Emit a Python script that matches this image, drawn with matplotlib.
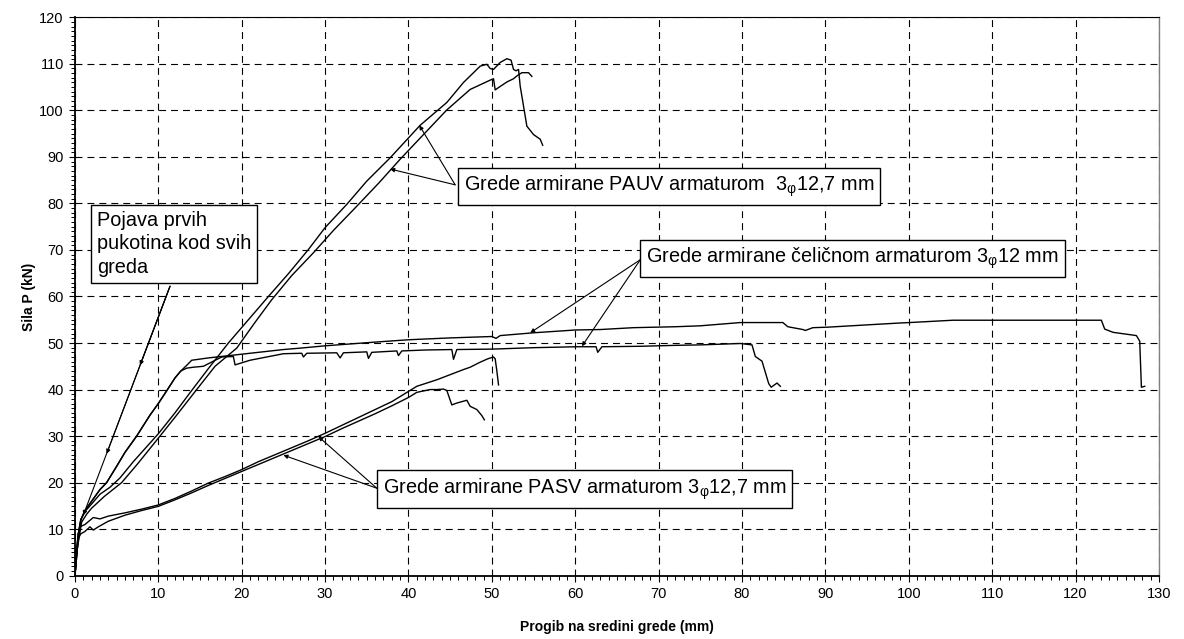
import matplotlib
matplotlib.use('Agg')
import matplotlib.pyplot as plt
from matplotlib.ticker import MultipleLocator

plt.rcParams['font.family'] = ['Liberation Sans', 'DejaVu Sans']
plt.rcParams['lines.scale_dashes'] = False

# celicna armatura (dvije grede)
s1_x = [0, 0.2, 0.4, 0.7, 1.2, 2, 3, 3.8, 5, 6, 7.4, 9, 10, 11.1, 12, 12.7, 13.4, 14, 16, 18, 20, 22, 25, 27,
        30, 33, 36, 40, 45, 50, 50.5, 51, 55, 60, 63, 67, 72, 75, 79.8, 84.9, 85.5, 87.3, 87.6, 88.5, 90.2, 95,
        98.9, 100.1, 105.3, 110, 115, 123.1, 123.5, 124.5, 127.3, 127.7, 127.9, 128.3]
s1_y = [0, 5, 9, 12, 14, 16, 18.5, 20, 23.5, 26.5, 30, 34.5, 37, 40, 42.5, 44, 45.2, 46.3, 46.8, 47.2, 47.6, 48.0,
        48.6, 48.9, 49.4, 49.8, 50.2, 50.7, 51.1, 51.4, 51.0, 51.6, 52.2, 52.8, 52.9, 53.3, 53.5, 53.7, 54.4, 54.4,
        53.5, 52.9, 52.7, 53.3, 53.4, 53.9, 54.3, 54.4, 54.9, 54.9, 54.9, 54.9, 53.0, 52.3, 51.6, 50.4, 40.5, 40.7]
s2_x = [0, 0.2, 0.4, 0.7, 1.2, 2, 3, 3.8, 5, 6, 7.4, 9, 10, 11.1, 12, 12.7, 13.4, 14.2, 15.4, 16.5, 17.6, 19.0,
        19.2, 21, 23, 25, 27.2, 27.4, 27.8, 31.4, 31.8, 32.2, 35, 35.2, 35.6, 38.6, 38.8, 39.2, 42, 45.2, 45.4,
        45.8, 50.2, 55, 60.2, 62.5, 62.7, 63.2, 67.8, 72, 75, 79.8, 81.2, 81.6, 82.4, 83.2, 83.5, 84.2, 84.6]
s2_y = [0, 5, 9, 12, 14, 16, 18.5, 20, 23.5, 26.5, 30, 34.5, 37, 40, 42.5, 44, 44.6, 44.8, 45.0, 46.0, 47.0, 47.1,
        45.3, 46.3, 47.0, 47.7, 47.8, 47.0, 47.8, 47.9, 46.8, 47.9, 48.1, 46.7, 48.0, 48.3, 47.3, 48.3, 48.5, 48.6,
        46.5, 48.6, 48.7, 49.0, 49.2, 49.2, 48.0, 49.2, 49.3, 49.5, 49.6, 49.9, 49.6, 47.1, 46.1, 41.3, 40.5, 41.4,
        40.7]

# PAUV armatura
a1_x = [0, 0.3, 0.7, 1.2, 1.8, 3, 4.2, 5.4, 7, 8.5, 10, 12, 14, 16, 18.4, 20.8, 23.2, 25.6, 28, 30, 32.6, 35,
        37.8, 41.4, 44.6, 46.6, 48.6, 49.4, 49.8, 50.2, 51.0, 51.8, 52.3, 52.6, 52.9, 53.2, 53.4, 53.8, 54.2,
        55.0, 55.8, 56.1]
a1_y = [0, 6, 12, 13.8, 15, 17.5, 19, 21, 24.5, 27.5, 30.5, 35, 39.8, 44.5, 50, 55, 60, 64.9, 70.1, 74.8, 79.8,
        84.8, 89.8, 96.8, 101.7, 106, 109.5, 109.9, 109, 108.8, 110.3, 111.1, 110.8, 108.8, 108.5, 108.8, 105.2,
        100.9, 96.6, 94.8, 93.8, 92.5]
a2_x = [0, 0.3, 0.8, 1.4, 2, 3.5, 5.6, 7.5, 10.2, 12.2, 14.6, 16.8, 19.4, 21.5, 23.6, 26, 28.6, 31, 33.8, 36.5,
        39.0, 41.8, 44.6, 47.4, 49.8, 50.2, 50.4, 50.8, 51.8, 52.6, 53.0, 53.6, 54.4, 54.8]
a2_y = [0, 6, 11.5, 13.2, 14.5, 17, 20, 24, 30, 34.5, 40, 45, 48.9, 54.2, 59.3, 64.5, 69.4, 74.2, 79.4, 84.5,
        89.5, 94.8, 100.1, 104.5, 106.5, 106.8, 104.4, 104.9, 106.1, 106.8, 107.4, 108.1, 108.1, 107.3]

# PASV armatura
p1_x = [0, 0.15, 0.35, 0.6, 1.2, 2.2, 3, 4, 6, 8, 10, 12, 14, 16, 18, 20, 22, 24, 26, 28, 30, 32, 34, 36, 38,
        40, 41, 43.4, 46.6, 47.4, 48.5, 49.5, 50.2, 50.4, 50.6, 50.8]
p1_y = [0, 4, 8.5, 10.5, 11, 12.5, 12.2, 12.8, 13.5, 14.3, 15.2, 16.6, 18.2, 19.9, 21.3, 22.8, 24.5, 26.0, 27.5,
        29.0, 30.6, 32.3, 34.0, 35.7, 37.4, 39.6, 40.7, 42.1, 44.3, 44.8, 45.8, 46.6, 47.0, 46.6, 44.0, 41.0]
p2_x = [0, 0.15, 0.4, 0.7, 1.2, 1.8, 2.2, 2.8, 4, 6, 8, 10, 12, 14, 16, 18, 20, 22, 24, 26, 28, 30, 32, 34, 36,
        38, 40, 41, 42.6, 43.4, 44.2, 44.6, 45.2, 45.8, 47, 47.4, 48.2, 48.8, 49.1]
p2_y = [0, 3.5, 8, 9, 9.5, 10.5, 9.8, 10.5, 11.7, 13, 14, 14.9, 16.3, 17.8, 19.4, 20.9, 22.4, 23.9, 25.4, 26.9,
        28.4, 29.9, 31.6, 33.2, 34.8, 36.5, 38.3, 39.4, 40.0, 40.0, 40.1, 39.8, 36.7, 37.1, 37.7, 36.4, 35.7, 34.4,
        33.5]

fig = plt.figure(figsize=(11.84, 6.39), dpi=100)
ax = fig.add_axes([0.0633, 0.0991, 0.9155, 0.8738])

for xs, ys in [(s1_x, s1_y), (s2_x, s2_y), (a1_x, a1_y), (a2_x, a2_y), (p1_x, p1_y), (p2_x, p2_y)]:
    ax.plot(xs, ys, color='black', lw=1.0, zorder=3)

ax.set_xlim(0, 130)
ax.set_ylim(0, 120)
ax.xaxis.set_major_locator(MultipleLocator(10))
ax.xaxis.set_minor_locator(MultipleLocator(1))
ax.yaxis.set_major_locator(MultipleLocator(10))
ax.yaxis.set_minor_locator(MultipleLocator(1))
ax.tick_params(axis='both', which='major', labelsize=10.5, length=4.5, width=0.8, color='black')
ax.tick_params(axis='both', which='minor', length=3, width=0.7, color='black')
ax.grid(True, which='major', color='black', lw=0.8, linestyle=(0, (5, 3.6)))

for side in ['left', 'bottom']:
    ax.spines[side].set_linewidth(1.3)
ax.spines['top'].set_linewidth(0.8)
ax.spines['right'].set_color('#808080')
ax.spines['right'].set_linewidth(1.0)

ax.set_xlabel('Progib na sredini grede (mm)', fontsize=10, fontweight='bold', labelpad=14)
ax.set_ylabel('Sila P (kN)', fontsize=10, fontweight='bold', labelpad=2)

box = dict(boxstyle='square,pad=0.3', facecolor='white', edgecolor='black', lw=1.0)
arr = dict(arrowstyle='-|>', color='black', lw=0.8, mutation_scale=6, shrinkA=0, shrinkB=0)
fs = 14.3
phi = '$_{\\mathregular{φ}}$'

# Pojava prvih pukotina
ax.text(2.6, 71.3, 'Pojava prvih\npukotina kod svih\ngreda', fontsize=fs, ha='left', va='center',
        bbox=box, zorder=5, linespacing=1.32)
for tip in [(7.8, 45.2), (3.8, 26.2), (1.0, 13.0)]:
    ax.annotate('', xy=tip, xytext=(11.4, 62.2), arrowprops=arr, zorder=4)

# PAUV
ax.text(46.6, 83.7, 'Grede armirane PAUV armaturom  3' + phi + '12,7 mm', fontsize=fs, ha='left',
        va='center', bbox=box, zorder=5)
for tip in [(41.3, 96.8), (37.8, 87.4)]:
    ax.annotate('', xy=tip, xytext=(45.6, 84.0), arrowprops=arr, zorder=4)

# celik
ax.text(68.5, 68.2, 'Grede armirane čeličnom armaturom 3' + phi + '12 mm', fontsize=fs, ha='left',
        va='center', bbox=box, zorder=5)
for tip in [(54.6, 52.2), (60.8, 49.3)]:
    ax.annotate('', xy=tip, xytext=(67.8, 67.9), arrowprops=arr, zorder=4)

# PASV
ax.text(36.9, 18.6, 'Grede armirane PASV armaturom 3' + phi + '12,7 mm', fontsize=fs, ha='left',
        va='center', bbox=box, zorder=5)
for tip in [(25.0, 25.9), (29.2, 29.9)]:
    ax.annotate('', xy=tip, xytext=(36.2, 18.8), arrowprops=arr, zorder=4)

plt.savefig('out.png', dpi=100)
